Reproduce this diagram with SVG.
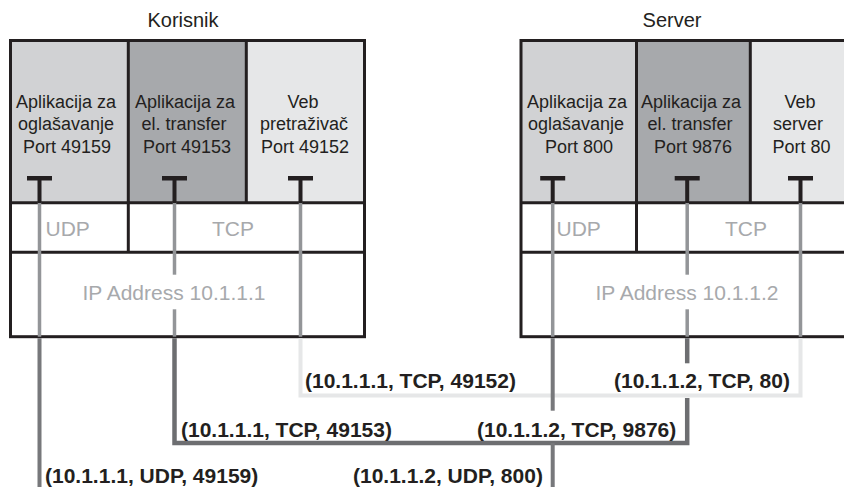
<svg xmlns="http://www.w3.org/2000/svg" width="844" height="487" viewBox="0 0 844 487">
  <style>
    text { font-family: "Liberation Sans", Arial, sans-serif; }
    .title { font-size: 20px; fill: #231f20; text-anchor: middle; }
    .app { font-size: 18px; fill: #231f20; text-anchor: middle; }
    .layer { font-size: 21px; fill: #a7a9ac; }
    .sock { font-size: 21px; font-weight: bold; fill: #231f20; }
    .frame { fill: none; stroke: #231f20; stroke-width: 3; }
    .div { stroke: #231f20; stroke-width: 3; }
    .tee { fill: #231f20; }
    .inner { stroke: #939598; stroke-width: 3.5; fill: none; }
    .udp { stroke: #77787b; stroke-width: 4; fill: none; }
    .tcpA { stroke: #6d6e71; stroke-width: 4.5; fill: none; }
    .tcpB { stroke: #e6e7e8; stroke-width: 4; fill: none; }
  </style>

  <!-- Client host -->
  <g id="korisnik">
    <text class="title" x="183" y="27">Korisnik</text>
    <rect x="10.5" y="40.5" width="118" height="162" fill="#d1d2d4"/>
    <rect x="128.5" y="40.5" width="118" height="162" fill="#a7a9ac"/>
    <rect x="246.5" y="40.5" width="118" height="162" fill="#e6e7e8"/>
    <rect x="10.5" y="202.5" width="354" height="134" fill="#ffffff"/>
    <rect class="frame" x="10.5" y="40.5" width="354" height="296.2"/>
    <line class="div" x1="10.5" y1="202.7" x2="364.5" y2="202.7"/>
    <line class="div" x1="10.5" y1="252.3" x2="364.5" y2="252.3"/>
    <line class="div" x1="128.3" y1="40.5" x2="128.3" y2="252.3"/>
    <line class="div" x1="246.3" y1="40.5" x2="246.3" y2="202.7"/>

    <text class="app" x="66" y="108">Aplikacija za</text>
    <text class="app" x="66" y="130.3">oglašavanje</text>
    <text class="app" x="67" y="152.6">Port 49159</text>
    <text class="app" x="185" y="108">Aplikacija za</text>
    <text class="app" x="184" y="130.3">el. transfer</text>
    <text class="app" x="187" y="152.6">Port 49153</text>
    <text class="app" x="303" y="108">Veb</text>
    <text class="app" x="304" y="130.3">pretraživač</text>
    <text class="app" x="305" y="152.6">Port 49152</text>

    <text class="layer" x="45.5" y="236">UDP</text>
    <text class="layer" x="233" y="236" text-anchor="middle">TCP</text>
    <text class="layer" x="174" y="299.5" text-anchor="middle">IP Address 10.1.1.1</text>

    <!-- port sockets -->
    <line class="inner" x1="39.5" y1="202" x2="39.5" y2="336.7"/>
    <line class="inner" x1="174.5" y1="202" x2="174.5" y2="274.7"/>
    <line class="inner" x1="174.5" y1="309.3" x2="174.5" y2="336.7"/>
    <line class="inner" x1="300.5" y1="202" x2="300.5" y2="336.7"/>
    <path class="tee" d="M27 176h25v4.5h-10.5v22.5h-4v-22.5h-10.5z"/>
    <path class="tee" d="M162 176h25v4.5h-10.5v22.5h-4v-22.5h-10.5z"/>
    <path class="tee" d="M288 176h25v4.5h-10.5v22.5h-4v-22.5h-10.5z"/>
  </g>

  <!-- Server host -->
  <g id="server">
    <text class="title" x="672" y="27">Server</text>
    <rect x="521" y="40.5" width="115" height="162" fill="#d1d2d4"/>
    <rect x="636" y="40.5" width="114" height="162" fill="#a7a9ac"/>
    <rect x="750" y="40.5" width="130" height="162" fill="#e6e7e8"/>
    <rect x="521" y="202.5" width="359" height="134" fill="#ffffff"/>
    <rect class="frame" x="521" y="40.5" width="359" height="296.2"/>
    <line class="div" x1="521" y1="202.7" x2="880" y2="202.7"/>
    <line class="div" x1="521" y1="252.3" x2="880" y2="252.3"/>
    <line class="div" x1="636.5" y1="40.5" x2="636.5" y2="252.3"/>
    <line class="div" x1="750.3" y1="40.5" x2="750.3" y2="202.7"/>

    <text class="app" x="577" y="108">Aplikacija za</text>
    <text class="app" x="576" y="130.3">oglašavanje</text>
    <text class="app" x="579" y="152.6">Port 800</text>
    <text class="app" x="691" y="108">Aplikacija za</text>
    <text class="app" x="690" y="130.3">el. transfer</text>
    <text class="app" x="693" y="152.6">Port 9876</text>
    <text class="app" x="800" y="108">Veb</text>
    <text class="app" x="798" y="130.3">server</text>
    <text class="app" x="801.5" y="152.6">Port 80</text>

    <text class="layer" x="556.5" y="236">UDP</text>
    <text class="layer" x="746" y="236" text-anchor="middle">TCP</text>
    <text class="layer" x="687" y="299.5" text-anchor="middle">IP Address 10.1.1.2</text>

    <line class="inner" x1="552.7" y1="202" x2="552.7" y2="336.7"/>
    <line class="inner" x1="687.2" y1="202" x2="687.2" y2="274.7"/>
    <line class="inner" x1="687.2" y1="309.3" x2="687.2" y2="336.7"/>
    <line class="inner" x1="800.5" y1="202" x2="800.5" y2="336.7"/>
    <path class="tee" d="M540.2 176h25v4.5h-10.5v22.5h-4v-22.5h-10.5z"/>
    <path class="tee" d="M674.7 176h25v4.5h-10.5v22.5h-4v-22.5h-10.5z"/>
    <path class="tee" d="M788 176h25v4.5h-10.5v22.5h-4v-22.5h-10.5z"/>
  </g>

  <!-- Connections between the sockets -->
  <g id="connectors">
    <path class="tcpB" d="M300.5 338.2V395.5H800.5V338.2"/>
    <path class="tcpA" d="M174.5 338.2V443H687.2V398"/>
    <line class="tcpA" x1="687.2" y1="338.2" x2="687.2" y2="363.3"/>
    <line class="udp" x1="39.5" y1="338.2" x2="39.5" y2="487"/>
    <line class="udp" x1="552.7" y1="338.2" x2="552.7" y2="410.7"/>
    <line class="udp" x1="552.7" y1="443" x2="552.7" y2="487"/>
  </g>

  <g id="socket-labels">
    <text class="sock" x="305" y="388">(10.1.1.1, TCP, 49152)</text>
    <text class="sock" x="614" y="388">(10.1.1.2, TCP, 80)</text>
    <text class="sock" x="181" y="436.5">(10.1.1.1, TCP, 49153)</text>
    <text class="sock" x="477" y="436.5">(10.1.1.2, TCP, 9876)</text>
    <text class="sock" x="45" y="483">(10.1.1.1, UDP, 49159)</text>
    <text class="sock" x="353" y="483">(10.1.1.2, UDP, 800)</text>
  </g>
</svg>
